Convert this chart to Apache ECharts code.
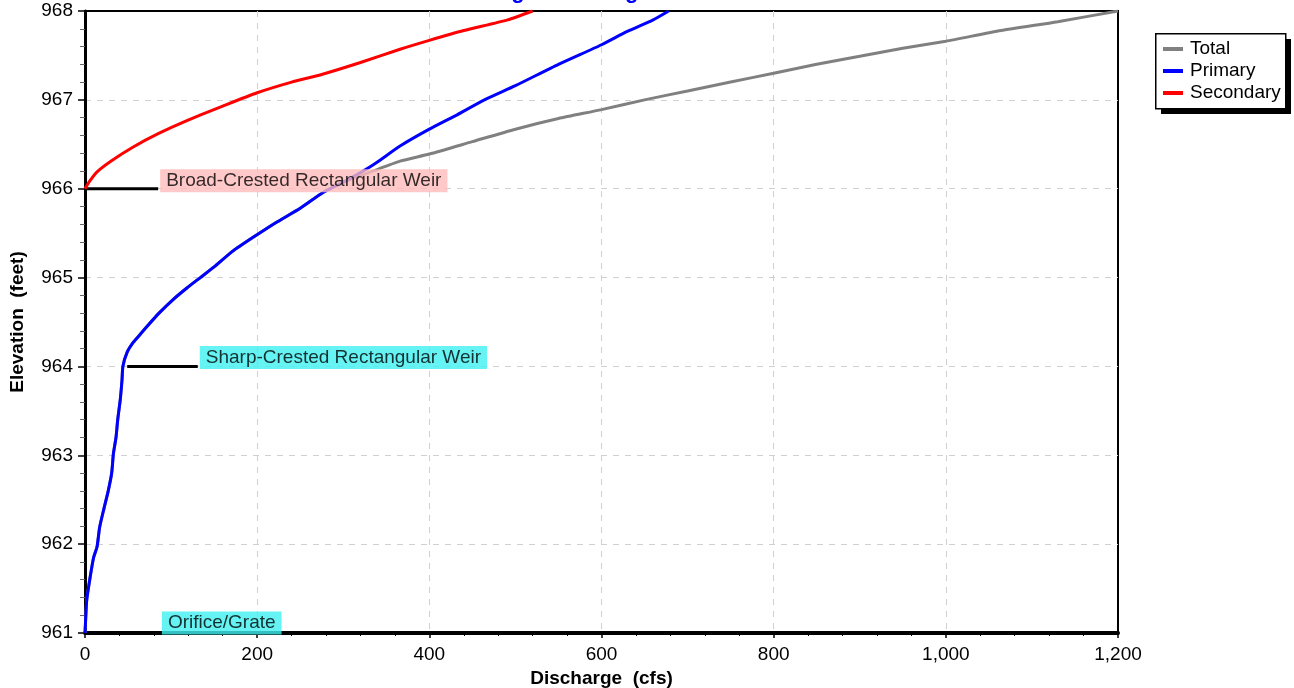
<!DOCTYPE html>
<html>
<head>
<meta charset="utf-8">
<script src="https://cdn.jsdelivr.net/npm/echarts@6/dist/echarts.min.js"></script>
<style>
html,body{margin:0;padding:0;background:#fff;}
#chart{width:1294px;height:688px;}
</style>
</head>
<body>
<div id="chart"></div>
<script>
// ---- Data ----
var titleText = 'Stage-Discharge';
var xTickLabels = ['0', '200', '400', '600', '800', '1,000', '1,200'];
var yTickLabels = ['961', '962', '963', '964', '965', '966', '967', '968'];

// [discharge cfs, elevation ft]
var primary = [
  [0, 961.0], [0.5, 961.1], [2, 961.37], [6, 961.63], [10, 961.85], [14, 961.97],
  [17, 962.19], [22, 962.4], [27, 962.6], [31, 962.8], [33, 963.02], [36, 963.2],
  [38, 963.4], [41, 963.63], [43, 963.85], [44, 964.0], [49, 964.16], [56, 964.27],
  [64, 964.36], [72, 964.45], [86, 964.6], [102, 964.75], [118, 964.88], [134, 965.0],
  [150, 965.12], [172, 965.3], [198, 965.47], [222, 965.62], [250, 965.78], [277, 965.96],
  [305, 966.1], [335, 966.27], [366, 966.48], [400, 966.67], [430, 966.82], [464, 967.0],
  [500, 967.16], [550, 967.4], [600, 967.62], [630, 967.77], [660, 967.9], [678, 968.0]
];
var secondary = [
  [0, 966.0], [5, 966.08], [14, 966.19], [30, 966.31], [56, 966.47], [85, 966.62],
  [119, 966.77], [160, 966.93], [200, 967.08], [240, 967.2], [273, 967.28], [320, 967.42],
  [366, 967.57], [400, 967.67], [440, 967.78], [491, 967.9], [520, 968.0]
];
var total = [
  [0, 961.0], [0.5, 961.1], [2, 961.37], [6, 961.63], [10, 961.85], [14, 961.97],
  [17, 962.19], [22, 962.4], [27, 962.6], [31, 962.8], [33, 963.02], [36, 963.2],
  [38, 963.4], [41, 963.63], [43, 963.85], [44, 964.0], [49, 964.16], [56, 964.27],
  [64, 964.36], [72, 964.45], [86, 964.6], [102, 964.75], [118, 964.88], [134, 965.0],
  [150, 965.12], [172, 965.3], [198, 965.47], [222, 965.62], [250, 965.78], [277, 965.96],
  [305, 966.09], [335, 966.2], [366, 966.31], [400, 966.39], [450, 966.53], [500, 966.67],
  [550, 966.79], [600, 966.89], [650, 967.0], [700, 967.1], [750, 967.2], [800, 967.3],
  [850, 967.4], [900, 967.49], [950, 967.58], [1000, 967.66], [1064, 967.78],
  [1130, 967.88], [1200, 968.0]
];

// Outlet annotations: name, crest elevation, leader start / end (cfs)
var weirNames = ['Broad-Crested Rectangular Weir', 'Sharp-Crested Rectangular Weir', 'Orifice/Grate'];
var weirElevations = [966, 964, 961];
var weirLeaderStart = [0, 49, 0];
var weirLeaderEnd = [85, 131, 87];

var seriesNames = ['Total', 'Primary', 'Secondary'];

// ---- Styles ----
var seriesColors = ['#808080', '#0000ff', '#ff0000'];
var weirColors = ['#ffbcbc', '#3ff0f0', '#3ff0f0'];
var weirLabelShift = [-8, -9, -10];

// ---- Chart ----
var chart = echarts.init(document.getElementById('chart'), null, {renderer: 'canvas'});
var FONT = 'Liberation Sans, Arial, sans-serif';
var FS = 19;

var leaderSeries = weirNames.map(function (n, i) {
  return {
    type: 'line',
    name: 'leader' + i,
    data: [[weirLeaderStart[i], weirElevations[i]], [weirLeaderEnd[i], weirElevations[i]]],
    symbol: 'none',
    lineStyle: {color: '#000', width: 3},
    silent: true,
    z: 3
  };
});

var labelSeries = {
  type: 'scatter',
  name: 'labels',
  symbolSize: 0,
  silent: true,
  z: 6,
  data: weirNames.map(function (n, i) {
    return {
      value: [weirLeaderEnd[i], weirElevations[i]],
      name: n,
      label: {
        show: true,
        position: 'right',
        distance: 2,
        offset: [0, weirLabelShift[i]],
        formatter: n,
        color: '#000',
        fontFamily: FONT,
        fontSize: FS,
        lineHeight: 20,
        backgroundColor: weirColors[i],
        padding: [2, 6, 1, 6]
      }
    };
  })
};

var mainSeries = [total, primary, secondary].map(function (d, i) {
  return {
    type: 'line',
    name: seriesNames[i],
    data: d,
    symbol: 'none',
    smooth: 0.2,
    lineStyle: {color: seriesColors[i], width: 3},
    itemStyle: {color: seriesColors[i]},
    z: 4 + i
  };
});

chart.setOption({
  animation: false,
  backgroundColor: '#fff',
  title: {
    text: titleText,
    left: 472,
    top: -24,
    textStyle: {color: '#0000ff', fontFamily: FONT, fontSize: 22, fontWeight: 'bold'}
  },
  graphic: [{
    type: 'rect',
    left: 1161,
    top: 39,
    z: 1,
    shape: {width: 130, height: 75},
    style: {fill: '#000'}
  }, {
    type: 'rect',
    left: 1155,
    top: 33,
    z: 2,
    shape: {width: 130, height: 75},
    style: {fill: '#fff', stroke: '#000', lineWidth: 1.5}
  }],
  grid: {
    left: 85, right: 176, top: 11, bottom: 55,
    outerBoundsMode: 'none',
    containLabel: false,
    show: true, borderColor: '#000', borderWidth: 2, backgroundColor: 'transparent'
  },
  legend: {
    data: seriesNames,
    orient: 'vertical',
    left: 1163,
    top: 39,
    z: 10,
    padding: 0,
    itemGap: 2,
    itemWidth: 20,
    itemHeight: 4,
    icon: 'rect',
    textStyle: {fontFamily: FONT, fontSize: FS, color: '#000', lineHeight: 20, padding: [0, 0, 0, 2]}
  },
  xAxis: {
    type: 'value',
    min: 0, max: 1200, interval: 200,
    name: 'Discharge  (cfs)',
    nameLocation: 'middle',
    nameGap: 35,
    nameTextStyle: {fontFamily: FONT, fontSize: FS, fontWeight: 'bold', color: '#000'},
    axisLine: {show: true, onZero: false, lineStyle: {color: '#000', width: 4}},
    axisTick: {show: true, length: 5, lineStyle: {color: '#000', width: 1.5}},
    minorTick: {show: true, splitNumber: 5, length: 3, lineStyle: {color: '#000', width: 1}},
    axisLabel: {
      fontFamily: FONT, fontSize: FS, color: '#000', margin: 12,
      formatter: function (v) { return xTickLabels[Math.round(v / 200)]; }
    },
    splitLine: {show: true, showMinLine: false, showMaxLine: false,
      lineStyle: {color: '#d0d0d0', type: [6, 6], width: 1}}
  },
  yAxis: {
    type: 'value',
    min: 961, max: 968, interval: 1,
    name: 'Elevation  (feet)',
    nameLocation: 'middle',
    nameGap: 58,
    nameRotate: 90,
    nameTextStyle: {fontFamily: FONT, fontSize: FS, fontWeight: 'bold', color: '#000'},
    axisLine: {show: true, onZero: false, lineStyle: {color: '#000', width: 3}},
    axisTick: {show: true, length: 7, lineStyle: {color: '#000', width: 1.5}},
    minorTick: {show: true, splitNumber: 5, length: 5, lineStyle: {color: '#666', width: 1}},
    axisLabel: {
      fontFamily: FONT, fontSize: FS, color: '#000', margin: 12,
      formatter: function (v) { return yTickLabels[Math.round(v - 961)]; }
    },
    splitLine: {show: true, showMinLine: false, showMaxLine: false,
      lineStyle: {color: '#d0d0d0', type: [6, 6], width: 1}}
  },
  series: mainSeries.concat(leaderSeries).concat([labelSeries])
});
</script>
</body>
</html>
